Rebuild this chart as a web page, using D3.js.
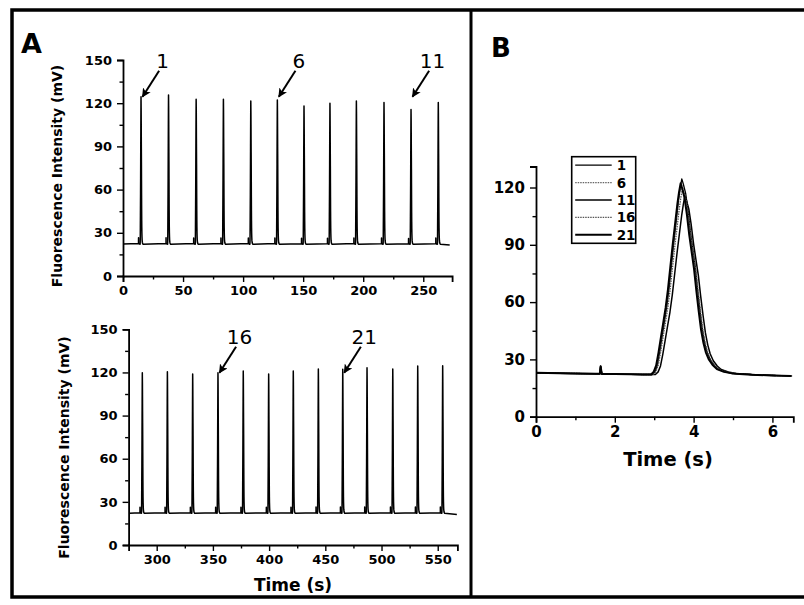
<!DOCTYPE html>
<html>
<head>
<meta charset="utf-8">
<script src="https://cdn.jsdelivr.net/npm/d3@7"></script>
<style>
  body { margin: 0; background: #fff; }
  svg text { font-family: "DejaVu Sans", sans-serif; fill: #000; }
</style>
</head>
<body>
<div id="chart"></div>
<script>
const width = 804, height = 605;

// peak apex times (s) and heights (mV)
const topPeakTimes = [15.0, 37.9, 60.9, 83.6, 106.4, 128.5, 150.7, 172.3, 194.3, 217.3, 239.8, 262.5];
const topPeakHeights = [124.5, 125.7, 122.7, 122.7, 121.5, 122.2, 118, 120, 121.5, 120.4, 115.7, 120.4];
const bottomPeakTimes = [287.2, 309.5, 332.0, 354.5, 377.0, 399.6, 421.5, 443.8, 465.5, 487.1, 510.0, 532.2, 554.4];
const bottomPeakHeights = [119.8, 120.5, 118.9, 119.8, 121.0, 118.9, 121.0, 122.4, 122.2, 123.3, 122.4, 124.5, 124.7];
const topBaseline = [[0, 22.2], [272, 21.6]];
const bottomBaseline = [[276, 22.0], [567, 21.2]];

// one injection (time s, mV)
const profileT = [0, 0.3, 0.6, 0.9, 1.2, 1.5, 1.62, 1.64, 1.67, 2.0, 2.4, 2.7, 2.95, 3.02, 3.08, 3.14, 3.2, 3.26, 3.32, 3.38, 3.44, 3.5, 3.56, 3.62, 3.66, 3.7,
  3.74, 3.8, 3.86, 3.92, 3.98, 4.04, 4.1, 4.16, 4.22, 4.28, 4.34, 4.42, 4.52, 4.62, 4.8, 5.0, 5.5, 6.0, 6.5];
const profileV = [23.0, 22.9, 22.8, 22.7, 22.6, 22.5, 22.5, 26.5, 22.4, 22.3, 22.2, 22.1, 22.1, 23.6, 27, 34, 42, 50, 58, 68, 80, 92, 103, 114, 120, 124.8,
  122, 117, 108, 97, 88, 79, 67, 56, 46, 39, 34, 30, 27, 25, 23.5, 22.7, 22.0, 21.6, 21.3];

// overlaid injections in panel B (peak shift in s, apex in mV)
const injections = ["1", "6", "11", "16", "21"];
const injShift = [0, -0.02, 0.08, 0.02, -0.03];
const injHeight = [124.5, 122.2, 115.7, 119.8, 122.2];

// arrows in panel A: label, peak time, level of arrow tip
const topNotes = [["1", 15.0, 124.5], ["6", 128.5, 124.5], ["11", 239.8, 124.5]];
const bottomNotes = [["16", 354.5, 119.8], ["21", 465.5, 119.8]];

const yTicksA = [0, 30, 60, 90, 120, 150];
const yTicksB = [0, 30, 60, 90, 120];

const svg = d3.select("#chart").append("svg")
  .attr("width", width)
  .attr("height", height);

svg.append("defs").append("marker")
  .attr("id", "head")
  .attr("viewBox", "0 0 10 10")
  .attr("refX", 9).attr("refY", 5)
  .attr("markerWidth", 4.5).attr("markerHeight", 4.5)
  .attr("markerUnits", "strokeWidth")
  .attr("orient", "auto")
  .append("path")
  .attr("d", "M0,0 L10,5 L0,10 L2.5,5 Z")
  .attr("fill", "#000");

// frame (right edge runs off the picture)
svg.append("rect")
  .attr("x", 12).attr("y", 10).attr("width", 800).attr("height", 587)
  .attr("fill", "none").attr("stroke", "#000").attr("stroke-width", 3.5);
svg.append("line")
  .attr("x1", 471).attr("x2", 471).attr("y1", 10).attr("y2", 597)
  .attr("stroke", "#000").attr("stroke-width", 3);

svg.append("text").attr("x", 21).attr("y", 53)
  .attr("font-size", 27).attr("font-weight", "bold").text("A");
svg.append("text").attr("x", 491).attr("y", 57)
  .attr("font-size", 26).attr("font-weight", "bold").text("B");

const B0 = 22;
const PMAX = d3.max(profileV);
const PAPEX = profileT[profileV.indexOf(PMAX)];

// peak part of the profile placed at apex time, scaled to height h;
// shift moves only the peak, not the injection spike before it
function injection(apex, h, tFrom, tTo, shift = 0) {
  const k = (h - B0) / (PMAX - B0);
  const pts = [];
  profileT.forEach((t, i) => {
    if (t < tFrom || t > tTo) return;
    const s = t > 2.9 ? shift : 0;
    pts.push([apex + (t - PAPEX) + s, B0 + (profileV[i] - B0) * k]);
  });
  return pts;
}

function styleAxis(g, fs) {
  g.select(".domain").attr("stroke-width", 1.8);
  g.selectAll(".tick line").attr("stroke-width", 1.4);
  g.selectAll(".tick text")
    .attr("font-family", "DejaVu Sans")
    .attr("font-weight", "bold")
    .attr("font-size", fs);
}

function drawAxes(x, y, xMajor, xMinor, yMajor, yMinor, fs) {
  const [y0] = y.range();
  const [x0] = x.range();
  const gx = svg.append("g").attr("transform", `translate(0,${y0})`)
    .call(d3.axisBottom(x).tickValues(xMajor).tickSize(6).tickPadding(3.5).tickFormat(d3.format("d")));
  styleAxis(gx, fs);
  const gxm = svg.append("g").attr("transform", `translate(0,${y0})`)
    .call(d3.axisBottom(x).tickValues(xMinor).tickSize(3.5).tickFormat(""));
  styleAxis(gxm, fs);
  gxm.select(".domain").remove();
  const gy = svg.append("g").attr("transform", `translate(${x0},0)`)
    .call(d3.axisLeft(y).tickValues(yMajor).tickSize(6).tickPadding(5));
  styleAxis(gy, fs);
  const gym = svg.append("g").attr("transform", `translate(${x0},0)`)
    .call(d3.axisLeft(y).tickValues(yMinor).tickSize(3.5).tickFormat(""));
  styleAxis(gym, fs);
  gym.select(".domain").remove();
}

function drawNotes(x, y, notes) {
  notes.forEach(([label, t, v]) => {
    const tx = x(t) + 1.5, ty = y(v);
    svg.append("line")
      .attr("x1", tx + 16.6).attr("y1", ty - 26)
      .attr("x2", tx).attr("y2", ty)
      .attr("stroke", "#000").attr("stroke-width", 2)
      .attr("marker-end", "url(#head)");
    svg.append("text")
      .attr("x", tx + 20).attr("y", ty - 29)
      .attr("text-anchor", "middle")
      .attr("font-size", 20)
      .text(label);
  });
}

function yTitle(cx, cy) {
  svg.append("text")
    .attr("transform", `translate(${cx},${cy}) rotate(-90)`)
    .attr("text-anchor", "middle")
    .attr("font-size", 14).attr("font-weight", "bold")
    .text("Fluorescence Intensity (mV)");
}

const line = d3.line();

// ---- panel A, top
const xTop = d3.scaleLinear().domain([0, 274]).range([123, 452.1]);
const yTop = d3.scaleLinear().domain([0, 150]).range([276, 60]);
const topTrace = [topBaseline[0]]
  .concat(topPeakTimes.flatMap((t, i) => injection(t, topPeakHeights[i], 1.4, 5.5)))
  .concat([topBaseline[1]]);
svg.append("path")
  .attr("d", line(topTrace.map(d => [xTop(d[0]), yTop(d[1])])))
  .attr("fill", "none").attr("stroke", "#000").attr("stroke-width", 1.5)
  .attr("stroke-linejoin", "round");
drawAxes(xTop, yTop, [0, 50, 100, 150, 200, 250], [25, 75, 125, 175, 225],
  yTicksA, [15, 45, 75, 105, 135], 13);
drawNotes(xTop, yTop, topNotes);
yTitle(62, 176);

// ---- panel A, bottom
const xBot = d3.scaleLinear().domain([275, 567.5]).range([128.6, 457.4]);
const yBot = d3.scaleLinear().domain([0, 150]).range([545, 329.3]);
const botTrace = [bottomBaseline[0]]
  .concat(bottomPeakTimes.flatMap((t, i) => injection(t, bottomPeakHeights[i], 1.4, 5.5)))
  .concat([bottomBaseline[1]]);
svg.append("path")
  .attr("d", line(botTrace.map(d => [xBot(d[0]), yBot(d[1])])))
  .attr("fill", "none").attr("stroke", "#000").attr("stroke-width", 1.5)
  .attr("stroke-linejoin", "round");
drawAxes(xBot, yBot, [300, 350, 400, 450, 500, 550], [325, 375, 425, 475, 525],
  yTicksA, [15, 45, 75, 105, 135], 13);
drawNotes(xBot, yBot, bottomNotes);
yTitle(68.5, 447.5);
svg.append("text").attr("x", 293).attr("y", 590.5)
  .attr("text-anchor", "middle").attr("font-size", 17).attr("font-weight", "bold")
  .text("Time (s)");

// ---- panel B
const xB = d3.scaleLinear().domain([0, 6.53]).range([536, 793.3]);
const yB = d3.scaleLinear().domain([0, 131]).range([416.7, 166.5]);
const injStyle = {
  "1": { stroke: "#000", w: 1.3, dash: null },
  "6": { stroke: "#666", w: 1.3, dash: "1.5,1" },
  "11": { stroke: "#000", w: 1.5, dash: null },
  "16": { stroke: "#555", w: 1.3, dash: "1.5,1" },
  "21": { stroke: "#000", w: 2, dash: null }
};
injections.forEach((name, i) => {
  const pts = injection(PAPEX, injHeight[i], 0, 6.5, injShift[i])
    .filter(d => d[0] >= 0 && d[0] <= 6.5);
  const s = injStyle[name];
  svg.append("path")
    .attr("d", line(pts.map(d => [xB(d[0]), yB(d[1])])))
    .attr("fill", "none").attr("stroke", s.stroke).attr("stroke-width", s.w)
    .attr("stroke-dasharray", s.dash)
    .attr("stroke-linejoin", "round");
});
drawAxes(xB, yB, [0, 2, 4, 6], [1, 3, 5], yTicksB, [15, 45, 75, 105], 15);
svg.append("text").attr("x", 668).attr("y", 466)
  .attr("text-anchor", "middle").attr("font-size", 19.5).attr("font-weight", "bold")
  .text("Time (s)");

// legend
const lg = svg.append("g").attr("transform", "translate(571.7,156.7)");
lg.append("rect").attr("width", 64).attr("height", 86.6)
  .attr("fill", "#fff").attr("stroke", "#000").attr("stroke-width", 1.6);
injections.forEach((name, i) => {
  const s = injStyle[name];
  const yy = 8.5 + i * 17.4;
  lg.append("line").attr("x1", 3.5).attr("x2", 40).attr("y1", yy).attr("y2", yy)
    .attr("stroke", s.stroke).attr("stroke-width", s.w).attr("stroke-dasharray", s.dash);
  lg.append("text").attr("x", 45).attr("y", yy + 5)
    .attr("font-size", 13.5).attr("font-weight", "bold").text(name);
});
</script>
</body>
</html>
